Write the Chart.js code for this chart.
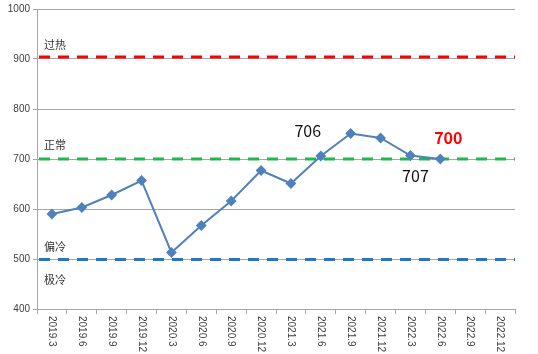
<!DOCTYPE html>
<html>
<head>
<meta charset="utf-8">
<script src="https://cdn.jsdelivr.net/npm/chart.js@4.4.1/dist/chart.umd.min.js"></script>
<style>
  html, body { margin: 0; padding: 0; background: #fff; }
  #wrap { width: 538px; height: 354px; }
</style>
</head>
<body>
<div id="wrap"><canvas id="c" width="538" height="354"></canvas></div>
<script>
const quarters = ['2019.3', '2019.6', '2019.9', '2019.12', '2020.3', '2020.6', '2020.9', '2020.12',
  '2021.3', '2021.6', '2021.9', '2021.12', '2022.3', '2022.6', '2022.9', '2022.12'];
const values = [590, 603, 628, 657, 513, 567, 616, 677, 651, 706, 751, 742, 707, 700, null, null];
const yTicks = [400, 500, 600, 700, 800, 900, 1000];

// 阈值线
const levelValues = [904, 700, 499];
const levelColors = ['#ff0000', '#1fb84f', '#1f78c8'];
const zoneNames = ['过热', '正常', '偏冷', '极冷'];
const zoneAt = [904, 700, 499, 499];

// 标注的点
const noteIdx = [9, 12, 13];

const FONT = '"Noto Sans CJK SC", "Noto Sans", sans-serif';

const overlay = {
  id: 'overlay',
  beforeDatasetsDraw(chart) {
    const { ctx, chartArea: a, scales: { y } } = chart;
    ctx.save();
    ctx.lineWidth = 3;
    ctx.setLineDash([11, 8]);
    levelValues.forEach((v, i) => {
      const py = y.getPixelForValue(v);
      ctx.strokeStyle = levelColors[i];
      ctx.beginPath();
      ctx.moveTo(a.left + 2, py);
      ctx.lineTo(a.right, py);
      ctx.stroke();
    });
    ctx.setLineDash([]);
    ctx.fillStyle = '#333';
    ctx.font = '11px ' + FONT;
    ctx.textBaseline = 'middle';
    const dy = [-12, -14, -13, 20];
    zoneNames.forEach((t, i) => {
      ctx.fillText(t, 44, y.getPixelForValue(zoneAt[i]) + dy[i]);
    });
    ctx.restore();
  },
  afterDatasetsDraw(chart) {
    const { ctx, scales: { x, y } } = chart;
    ctx.save();
    ctx.textAlign = 'center';
    ctx.textBaseline = 'middle';
    const offs = [[-13, -25], [5, 20], [8, -21]];
    noteIdx.forEach((k, i) => {
      const px = x.getPixelForValue(k), py = y.getPixelForValue(values[k]);
      if (i === 2) { ctx.fillStyle = '#ff0000'; ctx.font = 'bold 16px ' + FONT; }
      else { ctx.fillStyle = '#111'; ctx.font = '16px ' + FONT; }
      ctx.fillText(String(values[k]), px + offs[i][0], py + offs[i][1]);
    });
    // x 轴标签（竖排，自上而下）
    ctx.fillStyle = '#404040';
    ctx.font = '10px "Liberation Sans", Arial, sans-serif';
    ctx.textAlign = 'left';
    quarters.forEach((q, k) => {
      const px = x.getPixelForValue(k);
      ctx.save();
      ctx.translate(px, y.bottom + 7);
      ctx.rotate(Math.PI / 2);
      ctx.fillText(q, 0, 0);
      ctx.restore();
    });
    ctx.restore();
  }
};

new Chart(document.getElementById('c').getContext('2d'), {
  type: 'line',
  data: {
    labels: quarters,
    datasets: [{
      data: values,
      borderColor: '#4f81bd',
      backgroundColor: '#4f81bd',
      borderWidth: 2,
      pointStyle: 'rectRot',
      pointRadius: 4,
      pointHoverRadius: 4,
      tension: 0,
      spanGaps: false
    }]
  },
  options: {
    responsive: false,
    animation: false,
    devicePixelRatio: 1,
    layout: { padding: { top: 9, right: 23, left: 0, bottom: 0 } },
    plugins: { legend: { display: false }, tooltip: { enabled: false } },
    scales: {
      x: {
        type: 'category',
        offset: true,
        grid: { offset: true, drawOnChartArea: false, tickLength: 5, color: '#a6a6a6' },
        border: { color: '#a6a6a6', width: 1 },
        ticks: { color: 'rgba(0,0,0,0)', maxRotation: 90, minRotation: 90, font: { size: 10 } },
        afterFit(s) { s.height = 45; }
      },
      y: {
        min: 400,
        max: 1000,
        afterBuildTicks(s) { s.ticks = yTicks.map(v => ({ value: v })); },
        grid: { color: '#a6a6a6', tickLength: 4 },
        border: { color: '#a6a6a6', width: 1 },
        ticks: {
          color: '#404040',
          padding: 3,
          font: { size: 10, family: '"Liberation Sans", Arial, sans-serif' },
          callback: v => String(v)
        },
        afterFit(s) { s.width = 37; }
      }
    }
  },
  plugins: [overlay]
});
</script>
</body>
</html>
